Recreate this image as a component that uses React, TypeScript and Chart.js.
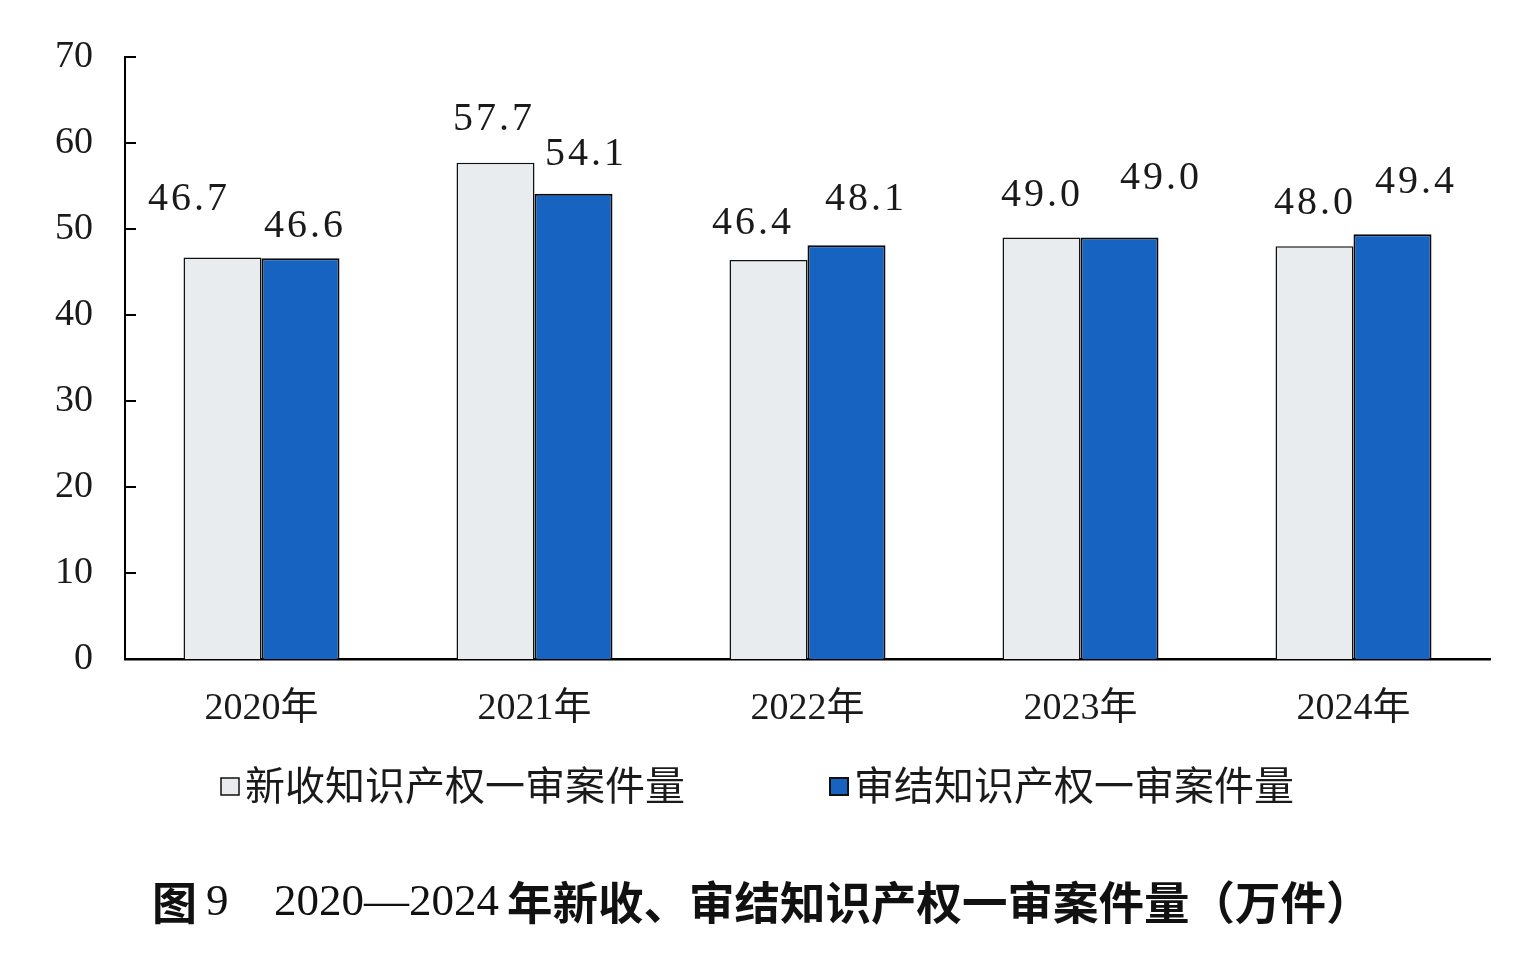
import React, { useEffect, useRef } from "react";
import { Chart, registerables } from "chart.js";

Chart.register(...registerables);

const categories = ["2020年", "2021年", "2022年", "2023年", "2024年"];
const newCases = [46.7, 57.7, 46.4, 49.0, 48.0];
const closedCases = [46.6, 54.1, 48.1, 49.0, 49.4];
const seriesNames = ["新收知识产权一审案件量", "审结知识产权一审案件量"];
const yTicks = [0, 10, 20, 30, 40, 50, 60, 70];

// label placement nudges (px) relative to each bar's centre / top
const labelNudgeX = [
  [-35, -3, -17, -1, -1],
  [3, 11, 18, 40, 22],
];
const labelGapY = [
  [58, 43, 36, 42, 43],
  [32, 39, 46, 59, 52],
];

const SERIF = '"Liberation Serif", "Noto Sans CJK SC", serif';
const CJK = '"Noto Sans CJK SC", sans-serif';
const LIGHT = "#E9ECEF";
const BLUE = "#1763C1";

const overlayPlugin = {
  id: "overlay",
  afterDraw(chart: any) {
    const ctx = chart.ctx as CanvasRenderingContext2D;
    const area = chart.chartArea;
    const y = chart.scales.y;
    ctx.save();
    // inward tick marks
    ctx.strokeStyle = "#000";
    ctx.lineWidth = 2;
    yTicks.forEach((v) => {
      const py = Math.round(y.getPixelForValue(v));
      ctx.beginPath();
      ctx.moveTo(area.left, py);
      ctx.lineTo(area.left + 11, py);
      ctx.stroke();
    });
    // data labels
    ctx.fillStyle = "#1a1a1a";
    ctx.font = `40px ${SERIF}`;
    (ctx as any).letterSpacing = "3px";
    ctx.textAlign = "center";
    ctx.textBaseline = "middle";
    chart.data.datasets.forEach((ds: any, di: number) => {
      const meta = chart.getDatasetMeta(di);
      meta.data.forEach((bar: any, i: number) => {
        const val = ds.data[i] as number;
        ctx.fillText(
          val.toFixed(1),
          bar.x + labelNudgeX[di][i] + 1.5,
          bar.y - labelGapY[di][i]
        );
      });
    });
    (ctx as any).letterSpacing = "0px";
    // legend
    const legendItems = [
      { x: 221, fill: LIGHT, border: 1.5 },
      { x: 830, fill: BLUE, border: 2 },
    ];
    ctx.textAlign = "left";
    ctx.font = `40px ${CJK}`;
    legendItems.forEach((it, i) => {
      ctx.fillStyle = it.fill;
      ctx.fillRect(it.x, 778, 18, 17);
      ctx.strokeStyle = "#111";
      ctx.lineWidth = it.border;
      ctx.strokeRect(it.x, 778, 18, 17);
      ctx.fillStyle = "#1a1a1a";
      ctx.fillText(seriesNames[i], it.x + 24, 785);
    });
    // title
    ctx.fillStyle = "#111";
    const ty = 903;
    ctx.font = `bold 45px ${CJK}`;
    ctx.fillText("图", 152, ty);
    ctx.font = `45px ${SERIF}`;
    ctx.fillText("9", 206, ty);
    ctx.fillText("2020—2024", 274, ty);
    ctx.font = `bold 45.5px ${CJK}`;
    ctx.fillText("年新收、审结知识产权一审案件量（万件）", 507, ty);
    ctx.restore();
  },
};

export default function App() {
  const ref = useRef<HTMLCanvasElement | null>(null);
  useEffect(() => {
    if (!ref.current) return;
    const chart = new Chart(ref.current, {
      type: "bar",
      data: {
        labels: categories,
        datasets: [
          {
            label: seriesNames[0],
            data: newCases,
            backgroundColor: LIGHT,
            borderColor: "#111",
            borderWidth: 1.5,
            categoryPercentage: 0.5714,
            barPercentage: 1,
          },
          {
            label: seriesNames[1],
            data: closedCases,
            backgroundColor: BLUE,
            borderColor: "#0a0a0a",
            borderWidth: 2,
            categoryPercentage: 0.5714,
            barPercentage: 1,
          },
        ],
      },
      options: {
        animation: false,
        responsive: true,
        maintainAspectRatio: false,
        layout: { padding: { top: 57, right: 27, left: 0, bottom: 0 } },
        plugins: {
          legend: { display: false },
          title: { display: false },
          tooltip: { enabled: false },
        },
        scales: {
          x: {
            grid: { display: false },
            border: { display: true, color: "#000", width: 2.5 },
            ticks: {
              color: "#1a1a1a",
              font: { family: SERIF, size: 38 },
              padding: 19,
            },
            afterFit: (s: any) => {
              s.height = 307;
            },
          },
          y: {
            min: 0,
            max: 70,
            grid: { display: false },
            border: { display: true, color: "#000", width: 2 },
            ticks: {
              stepSize: 10,
              color: "#1a1a1a",
              font: { family: SERIF, size: 38 },
              padding: 24,
            },
            afterFit: (s: any) => {
              s.width = 125;
            },
          },
        },
      },
      plugins: [overlayPlugin],
    });
    return () => chart.destroy();
  }, []);
  return (
    <div
      style={{
        position: "absolute",
        left: 0,
        top: 0,
        width: 1517,
        height: 966,
        background: "#fff",
      }}
    >
      <canvas ref={ref} />
    </div>
  );
}
